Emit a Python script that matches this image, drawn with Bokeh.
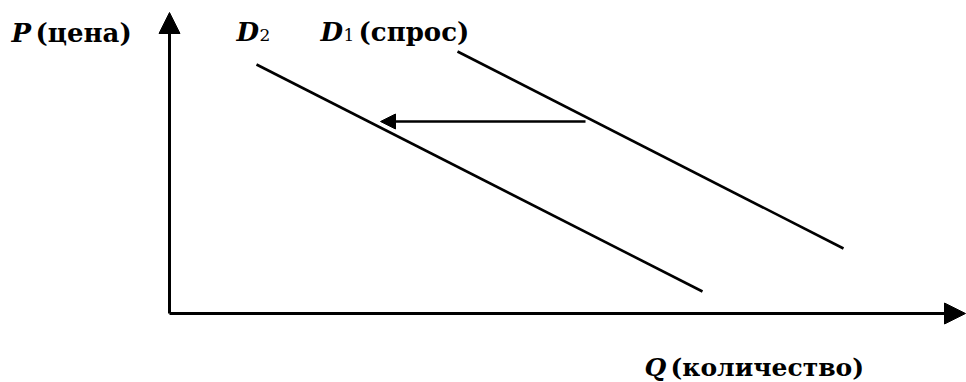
from bokeh.plotting import figure
from bokeh.models import Range1d, Arrow, NormalHead
from bokeh.core.properties import value
from bokeh.embed import file_html
from bokeh.resources import INLINE

# ---- data (arbitrary units: Q horizontal, P vertical) ----
q_axis_max = 79.6
p_axis_max = 30.1

d1_q = [28.8, 67.4]
d1_p = [26.2, 6.5]

d2_q = [8.7, 53.3]
d2_p = [24.9, 2.2]

shift_q = [41.6, 21.1]   # arrow from D1 toward D2
shift_p = [19.2, 19.2]

p_label = ["P", "(цена)"]
q_label = ["Q", "(количество)"]
d1_label = ["D", "1", "(спрос)"]
d2_label = ["D", "2"]

FONT = value("DejaVu Serif")

p = figure(width=966, height=382,
           x_range=Range1d(-16.9, 79.7), y_range=Range1d(-6.9, 31.3),
           x_axis_type=None, y_axis_type=None,
           output_backend="svg", toolbar_location=None,
           min_border=0, outline_line_color=None,
           background_fill_color="white", border_fill_color="white")
p.grid.visible = False

# axes as arrows
p.add_layout(Arrow(x_start=0, y_start=0, x_end=0, y_end=p_axis_max,
                   line_width=3, line_color="black",
                   end=NormalHead(size=21, fill_color="black", line_color="black", line_width=1)))
p.add_layout(Arrow(x_start=0, y_start=0, x_end=q_axis_max, y_end=0,
                   line_width=3, line_color="black",
                   end=NormalHead(size=21, fill_color="black", line_color="black", line_width=1)))

# demand curves
p.line(d1_q, d1_p, line_width=2.6, line_color="black")
p.line(d2_q, d2_p, line_width=2.6, line_color="black")

# shift arrow
p.add_layout(Arrow(x_start=shift_q[0], y_start=shift_p[0], x_end=shift_q[1], y_end=shift_p[1],
                   line_width=2.6, line_color="black",
                   end=NormalHead(size=15, fill_color="black", line_color="black", line_width=1)))

def txt(x, y, s, size, style):
    p.text(x=[x], y=[y], text=[s], text_font=FONT, text_font_size=size,
           text_font_style=style, text_color="black",
           text_align="left", text_baseline="alphabetic")

# P label
txt(-15.8, 28.1, p_label[0], "26px", "bold italic")
txt(-13.4, 28.1, p_label[1], "26px", "bold")

# D2 label
txt(6.7, 28.2, d2_label[0], "26px", "bold italic")
txt(9.0, 27.9, d2_label[1], "17px", "normal")

# D1 label
txt(15.1, 28.2, d1_label[0], "26px", "bold italic")
txt(17.4, 27.9, d1_label[1], "17px", "normal")
txt(18.9, 28.2, d1_label[2], "26px", "bold")

# Q label
txt(47.5, -5.4, q_label[0], "25px", "bold italic")
txt(50.1, -5.4, q_label[1], "25px", "bold")

open("out.html", "w").write(file_html(p, INLINE))
